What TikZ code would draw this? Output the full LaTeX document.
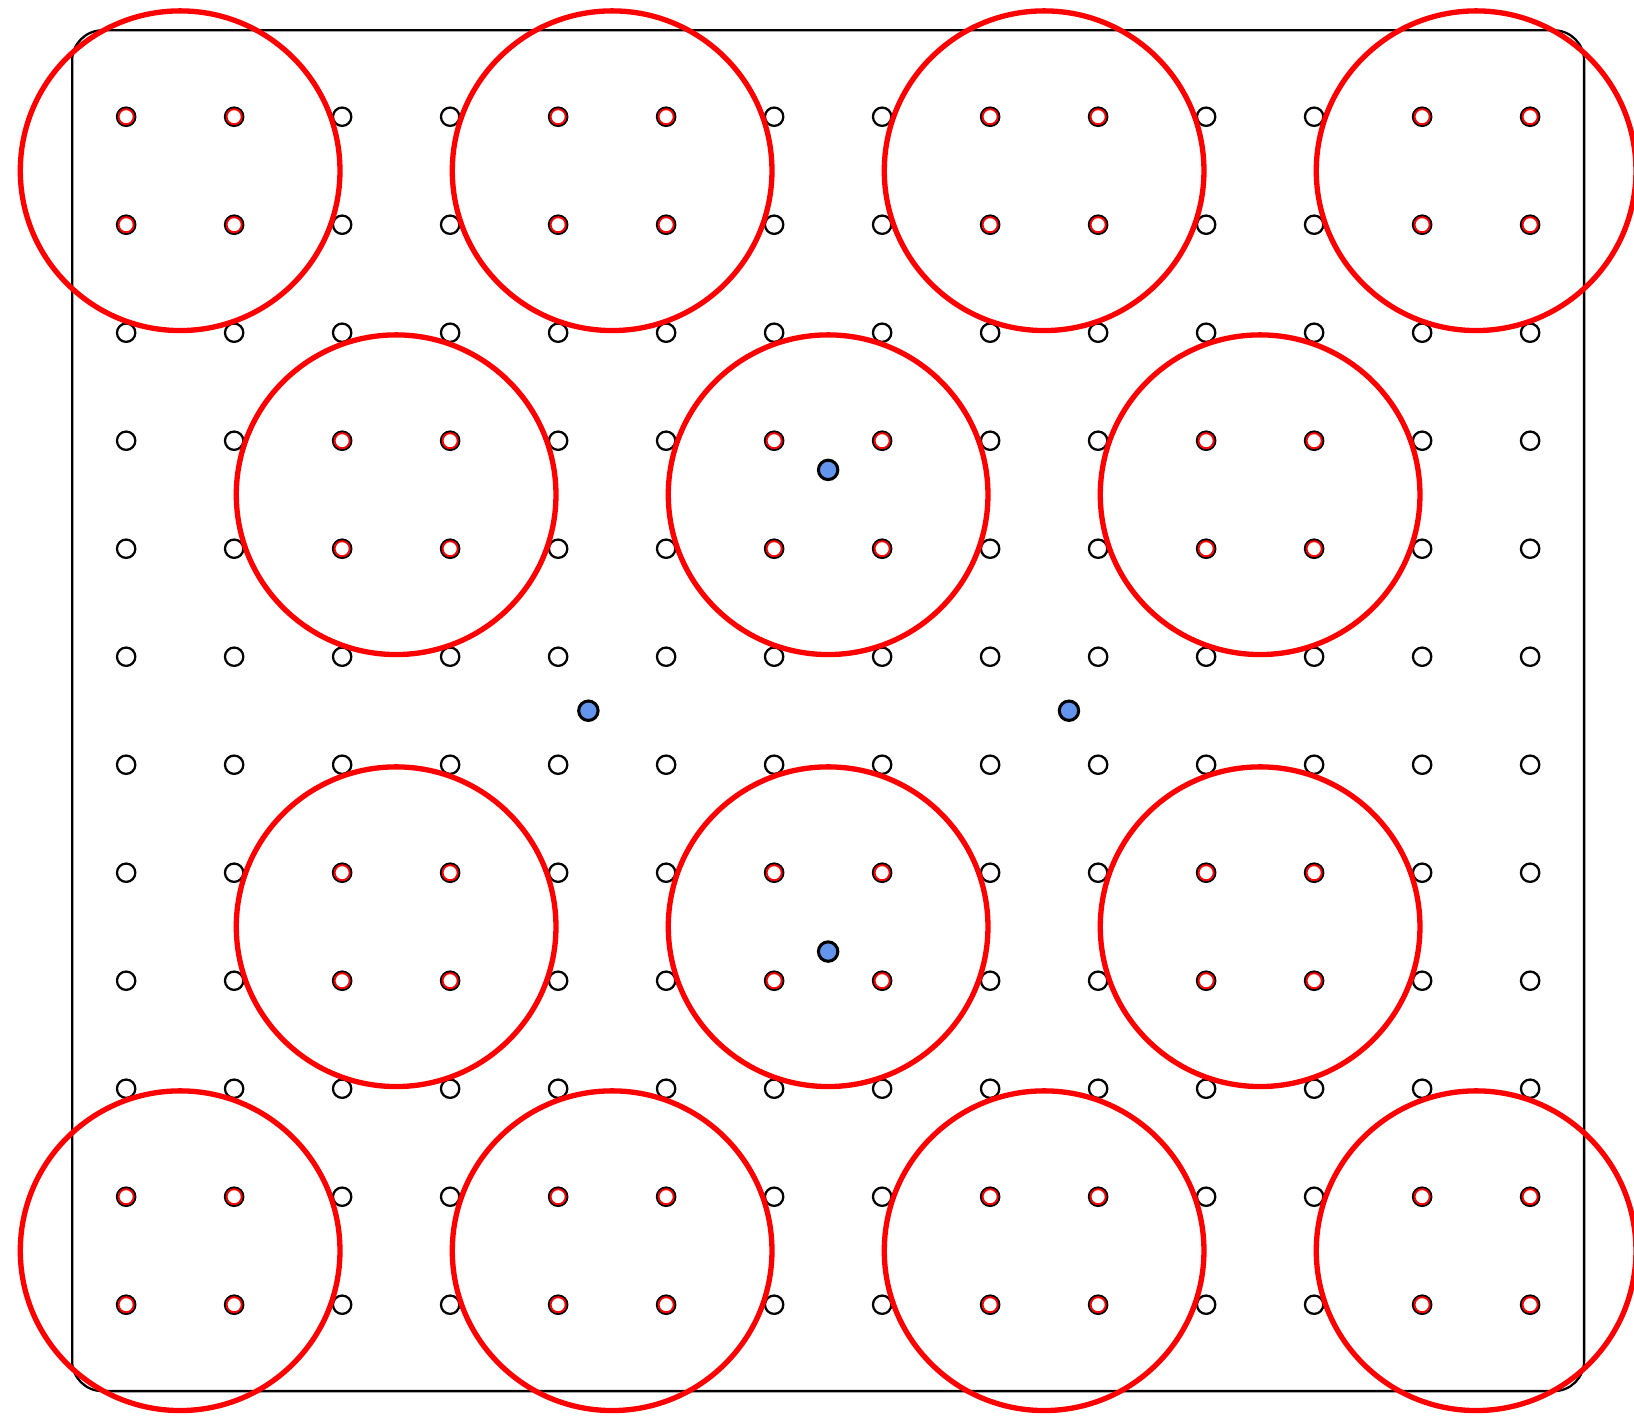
\documentclass[tikz,border=0pt]{standalone}
\usetikzlibrary{positioning}
\definecolor{probeblue}{RGB}{100,149,237}
\tikzset{
    site/.style={circle, draw=black, line width=0.6pt, inner sep=0pt, minimum size=0.17cm},
    insite/.style={circle, draw=red, line width=0.5pt, inner sep=0pt, minimum size=0.14cm},
    cluster/.style={circle, draw=red, line width=1.4pt, inner sep=0pt, minimum size=2.96cm},
    probe/.style={circle, draw=black, fill=probeblue, line width=0.8pt, inner sep=0pt, minimum size=0.18cm},
    frame/.style={draw=black, line width=0.6pt, rounded corners=0.28cm},
}
\begin{document}
\begin{tikzpicture}
    \useasboundingbox (-1.168,-1.03) rectangle (13.962,12.081);

    % Frame
    \draw[frame] (-0.5,-0.8) rectangle (13.5,11.8);

    % Lattice sites
    \foreach \i in {0,...,13} {
        \foreach \j in {0,...,11} {
            \node[site] (s-\i-\j) at (\i,\j) {};
        }
    }

    % Clusters with their inner sites
    \foreach \cx/\cy [count=\k] in {0.5/10.5, 4.5/10.5, 8.5/10.5, 12.5/10.5,
                                   2.5/7.5, 6.5/7.5, 10.5/7.5,
                                   2.5/3.5, 6.5/3.5, 10.5/3.5,
                                   0.5/0.5, 4.5/0.5, 8.5/0.5, 12.5/0.5} {
        \node[insite] (in-\k-a) at (\cx-0.5,\cy-0.5) {};
        \node[insite] (in-\k-b) at (\cx+0.5,\cy-0.5) {};
        \node[insite] (in-\k-c) at (\cx-0.5,\cy+0.5) {};
        \node[insite] (in-\k-d) at (\cx+0.5,\cy+0.5) {};
        \node[cluster] (c-\k) at (\cx,\cy) {};
    }

    % Probe points
    \node[probe] (pN) at (6.5,7.73) {};
    \node[probe] (pW) at (4.28,5.5) {};
    \node[probe] (pE) at (8.73,5.5) {};
    \node[probe] (pS) at (6.5,3.27) {};
\end{tikzpicture}
\end{document}
